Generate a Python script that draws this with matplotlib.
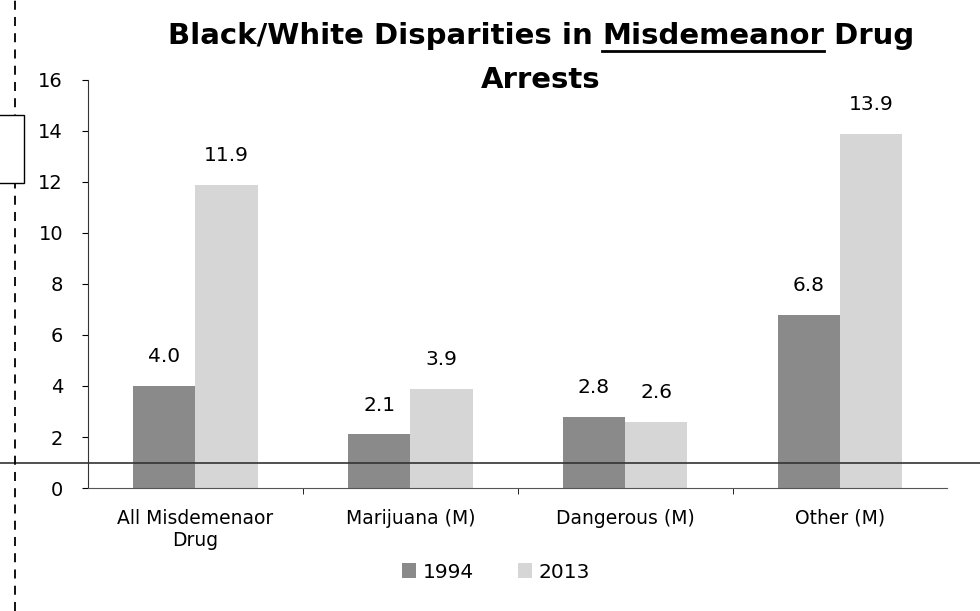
#Disparidades Black/White en arrestos por drogas (misdemeanor)
import matplotlib
matplotlib.use("Agg")
import matplotlib.pyplot as plt
import matplotlib.transforms as mtransforms
import numpy as np

#datos
categorias = ["All Misdemenaor\nDrug", "Marijuana (M)", "Dangerous (M)", "Other (M)"]
valores_1994 = [4.0, 2.1, 2.8, 6.8]
valores_2013 = [11.9, 3.9, 2.6, 13.9]
series = ["1994", "2013"]
paridad = 1

fuente = "DejaVu Sans"
plt.rcParams['font.family'] = [fuente]

fig = plt.figure(figsize=(9.8, 6.11), dpi=100)
ax = fig.add_axes([0.0898, 0.2013, 0.877, 0.6678])

x = np.arange(len(categorias))
ancho = 0.29
b1 = ax.bar(x - ancho / 2, valores_1994, ancho, color='#8a8a8a', label=series[0])
b2 = ax.bar(x + ancho / 2, valores_2013, ancho, color='#d6d6d6', label=series[1])

#etiquetas de valores
for barras in (b1, b2):
    for b in barras:
        ax.annotate(f"{b.get_height():.1f}", (b.get_x() + b.get_width() / 2, b.get_height()),
                    xytext=(0, 21), textcoords='offset points', ha='center', va='center',
                    fontsize=14.5)

ax.set_xlim(-0.5, len(categorias) - 0.5)
ax.set_ylim(0, 16)
ax.set_yticks(range(0, 17, 2))
ax.tick_params(axis='y', labelsize=14, length=4, pad=14)
ax.set_xticks(x)
ax.set_xticklabels(categorias, fontsize=13.5)
ax.tick_params(axis='x', length=0, pad=15)
ax.set_xticks(np.arange(0.5, len(categorias) - 0.5, 1), minor=True)
ax.tick_params(axis='x', which='minor', length=4)
for s in ['top', 'right']:
    ax.spines[s].set_visible(False)
ax.spines['left'].set_color('#333333')
ax.spines['bottom'].set_color('#555555')

#linea de paridad a lo ancho de toda la figura
trans = mtransforms.blended_transform_factory(fig.transFigure, ax.transData)
ax.plot([0, 1], [paridad, paridad], color='#333333', lw=1.2, transform=trans, clip_on=False)

#marcas del escaneo: linea punteada y recuadro a la izquierda
fig.add_artist(plt.Line2D([0.0153, 0.0153], [0, 1], color='black', lw=1.3, ls=(0, (5, 4)), zorder=1))
fig.add_artist(plt.Rectangle((-0.01, 1 - 183 / 611), 34 / 980, 68 / 611, fill=True,
                             facecolor='white', edgecolor='black', lw=1.0, zorder=3))

#titulo con "Misdemeanor" subrayado
partes = ["Black/White Disparities in ", "Misdemeanor", " Drug"]
tam_titulo = 21
renderer = fig.canvas.get_renderer()
anchos = []
for p in partes:
    t = fig.text(0, 0, p.replace(" ", "\u00a0"), fontsize=tam_titulo, fontweight='bold')
    anchos.append(t.get_window_extent(renderer).width)
    t.remove()
total = sum(anchos)
x0 = 541 - total / 2
y_linea1 = 611 - 36
for p, w in zip(partes, anchos):
    fig.text(x0 / 980, y_linea1 / 611, p.replace(" ", "\u00a0"), fontsize=tam_titulo,
             fontweight='bold', va='center', ha='left')
    if p == "Misdemeanor":
        fig.add_artist(plt.Line2D([x0 / 980, (x0 + w) / 980],
                                  [(y_linea1 - 15) / 611, (y_linea1 - 15) / 611],
                                  color='black', lw=2))
    x0 += w
fig.text(541 / 980, 1 - 80 / 611, "Arrests", fontsize=tam_titulo, fontweight='bold',
         ha='center', va='center')

#leyenda
ax.legend(loc='center', bbox_to_anchor=(496 / 980, 1 - 572 / 611), bbox_transform=fig.transFigure,
          ncol=2, frameon=False, fontsize=14.5, handlelength=0.7, handleheight=0.7,
          handletextpad=0.3, columnspacing=2.2)

fig.savefig("out.png", dpi=100)
